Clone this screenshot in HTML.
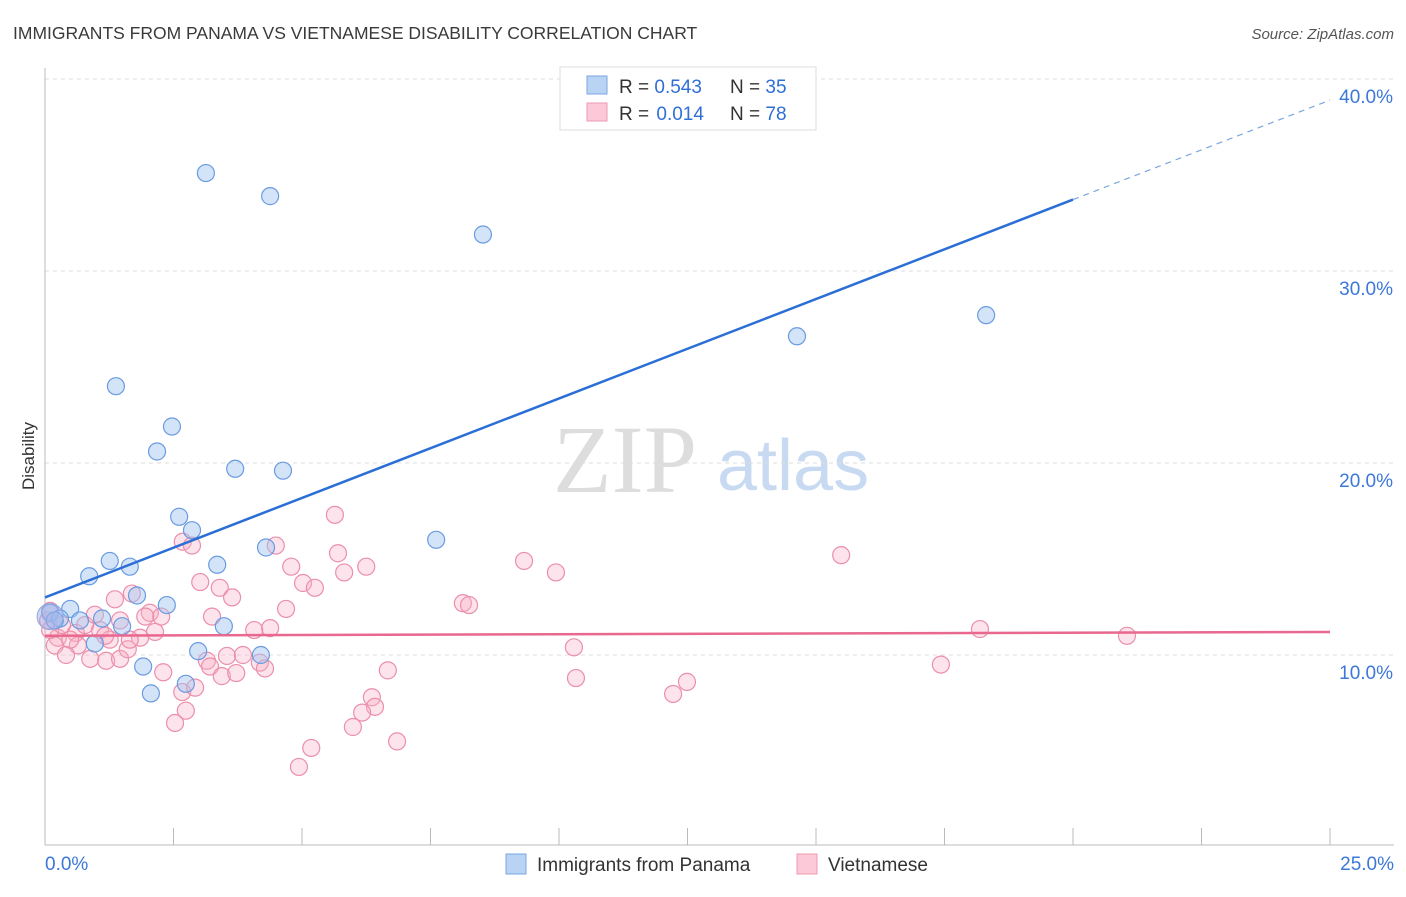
<!DOCTYPE html>
<html><head><meta charset="utf-8"><style>
body{margin:0;background:#fff;font-family:"Liberation Sans",sans-serif}
svg text{font-family:"Liberation Sans",sans-serif}
</style></head><body>
<svg id="c" width="1406" height="892" xmlns="http://www.w3.org/2000/svg">
<text x="13" y="39" font-size="17.5" fill="#3a3a3a">IMMIGRANTS FROM PANAMA VS VIETNAMESE DISABILITY CORRELATION CHART</text>
<text x="1394" y="39" font-size="15" fill="#555" text-anchor="end" font-style="italic">Source: ZipAtlas.com</text>
<g id="watermark">
<text x="553" y="492" font-size="96" fill="#ddd" style="font-family:'Liberation Serif',serif">ZIP</text>
<text x="717" y="490" font-size="72" fill="#c8daf2">atlas</text>
</g>
<g id="grid"></g><g id="axes"></g><g id="pts"></g><g id="trend"></g>
<text transform="translate(34,456) rotate(-90)" font-size="17" fill="#333" text-anchor="middle">Disability</text>
<g>
<rect x="560" y="67" width="256" height="63" fill="#fff" stroke="#ddd"/>
<rect x="587" y="76" width="20" height="18" fill="#b9d3f5" stroke="#7aa6e0"/>
<rect x="587" y="103" width="20" height="18" fill="#fbc9d7" stroke="#ee9ab2"/>
<text x="619" y="93" font-size="19" fill="#333">R = <tspan fill="#2f6fd6">0.543</tspan></text>
<text x="730" y="93" font-size="19" fill="#333">N = <tspan fill="#2f6fd6">35</tspan></text>
<text x="619" y="120" font-size="19" fill="#333">R = <tspan fill="#2f6fd6" dx="2">0.014</tspan></text>
<text x="730" y="120" font-size="19" fill="#333">N = <tspan fill="#2f6fd6">78</tspan></text>
</g>
<g>
<rect x="506" y="854" width="20" height="20" fill="#b9d3f5" stroke="#7aa6e0"/>
<text x="537" y="871" font-size="19" fill="#333">Immigrants from Panama</text>
<rect x="797" y="854" width="20" height="20" fill="#fbc9d7" stroke="#ee9ab2"/>
<text x="828" y="871" font-size="19" fill="#333">Vietnamese</text>
</g>
</svg>
<script>
const yTicks=[10,20,30,40];
const yTickLabels=["10.0%","20.0%","30.0%","40.0%"];
const xTickLabels=["0.0%","25.0%"];
const panamaX=[3.13,4.38,8.52,14.63,18.31,1.38,2.47,2.18,3.70,4.63,2.61,2.86,7.61,4.30,1.26,1.65,3.35,0.86,1.79,2.37,0.49,0.10,0.29,0.68,1.11,1.50,3.48,0.97,2.98,4.20,1.91,2.74,2.06,0.19];
const panamaY=[35.1,33.9,31.9,26.6,27.7,24.0,21.9,20.6,19.7,19.6,17.2,16.5,16.0,15.6,14.9,14.6,14.7,14.1,13.1,12.6,12.4,12.2,11.9,11.8,11.9,11.5,11.5,10.6,10.2,10.0,9.4,8.5,8.0,11.8];
const vietX=[5.64,2.68,2.86,4.49,9.32,15.49,5.70,4.79,6.25,5.82,9.94,5.02,5.25,3.02,3.40,3.64,1.36,1.69,8.13,8.25,4.69,2.04,2.26,3.25,1.95,18.19,21.05,10.29,4.38,4.07,1.07,1.85,2.14,1.26,0.60,0.25,0.10,0.19,0.64,0.41,0.88,1.19,1.46,1.61,2.30,3.15,3.21,3.54,3.85,4.18,4.28,6.67,17.43,10.33,12.49,12.22,2.67,2.92,3.44,3.72,6.36,6.42,6.17,2.74,2.53,5.99,6.85,5.18,4.94,0.06,0.33,0.78,0.49,0.10,1.46,1.17,0.97,1.65];
const vietY=[17.3,15.9,15.7,15.7,14.9,15.2,15.3,14.6,14.6,14.3,14.3,13.75,13.5,13.8,13.5,13.0,12.9,13.2,12.7,12.6,12.4,12.2,12.0,12.0,12.0,11.35,11.0,10.4,11.4,11.3,11.3,10.9,11.2,10.8,11.15,10.9,11.3,10.5,10.5,10.0,9.8,9.7,9.8,10.3,9.1,9.7,9.4,9.95,10.0,9.6,9.3,9.2,9.5,8.8,8.6,7.97,8.07,8.3,8.9,9.06,7.8,7.3,7.0,7.1,6.46,6.25,5.5,5.16,4.17,11.8,11.56,11.56,10.8,12.3,11.8,11.0,12.1,10.8];
const panamaTrend=[13.0,38.9];
const vietTrend=[11.0,11.2];
const NS="http://www.w3.org/2000/svg";
const X=v=>45+v/25*1285, Y=v=>847-v*19.2;
function mk(tag,attrs,parent){const e=document.createElementNS(NS,tag);for(const k in attrs)e.setAttribute(k,attrs[k]);parent.appendChild(e);return e;}
const grid=document.getElementById('grid'),axes=document.getElementById('axes'),pts=document.getElementById('pts'),tr=document.getElementById('trend');
yTicks.forEach((t,i)=>{
 const l=mk('line',{x1:45,x2:1394,y1:Y(t),y2:Y(t),stroke:'#ddd','stroke-dasharray':'4,4'},grid);
 
 
 const tx=mk('text',{x:1393,y:Y(t)+24,'font-size':19,fill:'#3b78d8','text-anchor':'end'},grid);
 tx.textContent=yTickLabels[i];
 
 
});
let a=mk('line',{x1:45,x2:45,y1:68,y2:845,stroke:'#bbb'},axes);


a=mk('line',{x1:45,x2:1394,y1:845,y2:845,stroke:'#bbb'},axes);


for(let i=0;i<=10;i++){const t=mk('line',{x1:X(i*2.5),x2:X(i*2.5),y1:828,y2:845,stroke:'#bbb'},axes);
 
 }
[[0,'start',45],[25,'end',1394]].forEach((d,i)=>{const t=mk('text',{x:d[2],y:870,'font-size':19,fill:'#3b78d8','text-anchor':d[1]},axes);t.textContent=xTickLabels[i];
 
 });
vietX.forEach((v,i)=>{const c=mk('circle',{cx:X(v),cy:Y(vietY[i]),r:8.5,fill:'rgba(248,175,198,0.35)',stroke:'#eb8fab','stroke-width':1.2},pts);
 
 });
panamaX.forEach((v,i)=>{const c=mk('circle',{cx:X(v),cy:Y(panamaY[i]),r:8.5,fill:'rgba(160,196,240,0.45)',stroke:'#6a9be0','stroke-width':1.2},pts);
 
 });
let big=mk('circle',{cx:X(0.1),cy:Y(12.0),r:13,fill:'rgba(160,180,235,0.5)',stroke:'#8fa8e0'},pts);


const py=x=>panamaTrend[0]+(panamaTrend[1]-panamaTrend[0])*x/25;
let l=mk('line',{x1:X(0),y1:Y(py(0)),x2:X(20),y2:Y(py(20)),stroke:'#2b6fd6','stroke-width':2.5},tr);


l=mk('line',{x1:X(20),y1:Y(py(20)),x2:X(25),y2:Y(py(25)),stroke:'#7aa6e0','stroke-width':1.2,'stroke-dasharray':'6,5'},tr);


l=mk('line',{x1:X(0),y1:Y(vietTrend[0]),x2:X(25),y2:Y(vietTrend[1]),stroke:'#e8688f','stroke-width':2.5},tr);


</script>
</body></html>
